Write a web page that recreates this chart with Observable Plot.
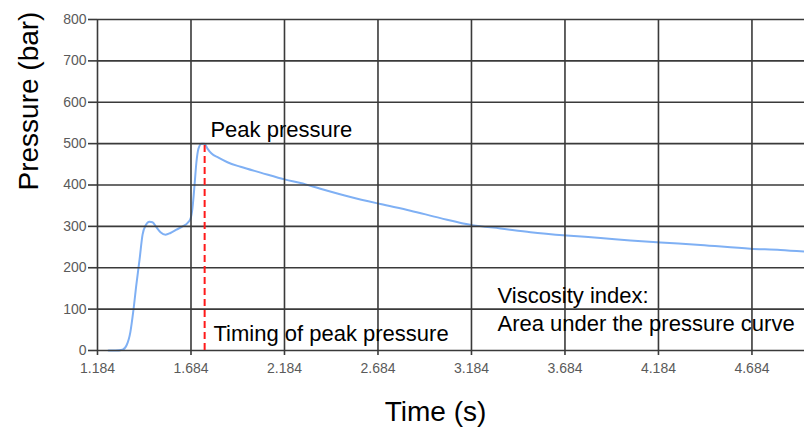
<!DOCTYPE html>
<html><head><meta charset="utf-8">
<script src="https://cdn.jsdelivr.net/npm/d3@7"></script>
<script src="https://cdn.jsdelivr.net/npm/@observablehq/plot@0.6"></script>
<style>body{margin:0;background:#fff}</style>
</head><body><div id="chart"></div>
<script>
const time = [1.243,1.280,1.318,1.339,1.360,1.376,1.392,1.409,1.425,1.441,1.462,1.478,1.499,1.521,1.548,1.574,1.606,1.639,1.665,1.681,1.692,1.703,1.713,1.724,1.740,1.756,1.772,1.794,1.831,1.879,1.949,2.056,2.189,2.270,2.376,2.537,2.697,2.858,3.018,3.189,3.339,3.500,3.692,3.874,4.034,4.195,4.409,4.676,4.836,4.965];
const pressure = [0,0,2,12,45,97,160,220,280,302,311,310,298,286,280,284,292,300,308,318,345,400,455,488,500,500,488,476,466,455,444,430,413,405,391,371,354,338,320,303,295,286,278,272,266,261,255,246,243,239];
const xTicks = [1.184,1.684,2.184,2.684,3.184,3.684,4.184,4.684];
const yTicks = [0,100,200,300,400,500,600,700,800];
const peakTime = 1.757;
const peakPressure = 500;
const noteText = ["Peak pressure","Timing of peak pressure","Viscosity index:","Area under the pressure curve"];
const noteTime = [1.788,1.804,3.323,3.323];
const notePressure = [517,24,114,48];
const xTitle = "Time (s)";
const yTitle = "Pressure (bar)";

const data = time.map((t,i)=>({t, p: pressure[i]}));
const notes = noteText.map((s,i)=>({s, t: noteTime[i], p: notePressure[i]}));
const font = "'Liberation Sans', Arial, sans-serif";
const gridColor = "#3a3a3a";

const chart = Plot.plot({
  width: 804, height: 427,
  marginLeft: 97, marginRight: 0, marginTop: 19, marginBottom: 77,
  style: {fontFamily: font, fontSize: "14px", background: "#fff", overflow: "hidden"},
  x: {domain: [1.184, 4.965]},
  y: {domain: [0, 800]},
  marks: [
    Plot.line(data, {x: "t", y: "p", stroke: "#7fb0f4", strokeWidth: 2, curve: "monotone-x"}),
    Plot.gridX(xTicks, {stroke: gridColor, strokeOpacity: 1, strokeWidth: 1.6}),
    Plot.gridY(yTicks, {stroke: gridColor, strokeOpacity: 1, strokeWidth: 1.6}),
    Plot.ruleX([peakTime], {y1: 0, y2: peakPressure, stroke: "#ff1a1a", strokeWidth: 2, strokeDasharray: "7,4"}),
    Plot.axisX(xTicks, {tickFormat: d => d.toFixed(3), tickSize: 5, tickPadding: 8, fontSize: 14, fill: "#5a5a5a", stroke: gridColor, strokeWidth: 1.6, label: null}),
    Plot.axisY(yTicks, {tickSize: 9, tickPadding: 2, fontSize: 14, fill: "#5a5a5a", stroke: gridColor, strokeWidth: 1.6, label: null}),
    Plot.text(notes, {x: "t", y: "p", text: "s", textAnchor: "start", lineAnchor: "bottom", fontSize: 22, fill: "#000"}),
    Plot.text([yTitle], {frameAnchor: "left", text: d => d, rotate: -90, dx: -60, dy: 5.5, lineAnchor: "bottom", fontSize: 28, fill: "#000"}),
    Plot.text([xTitle], {frameAnchor: "bottom", text: d => d, dx: -15.5, dy: 70, lineAnchor: "bottom", fontSize: 28, fill: "#000"})
  ]
});
document.getElementById("chart").appendChild(chart);
</script>
</body></html>
